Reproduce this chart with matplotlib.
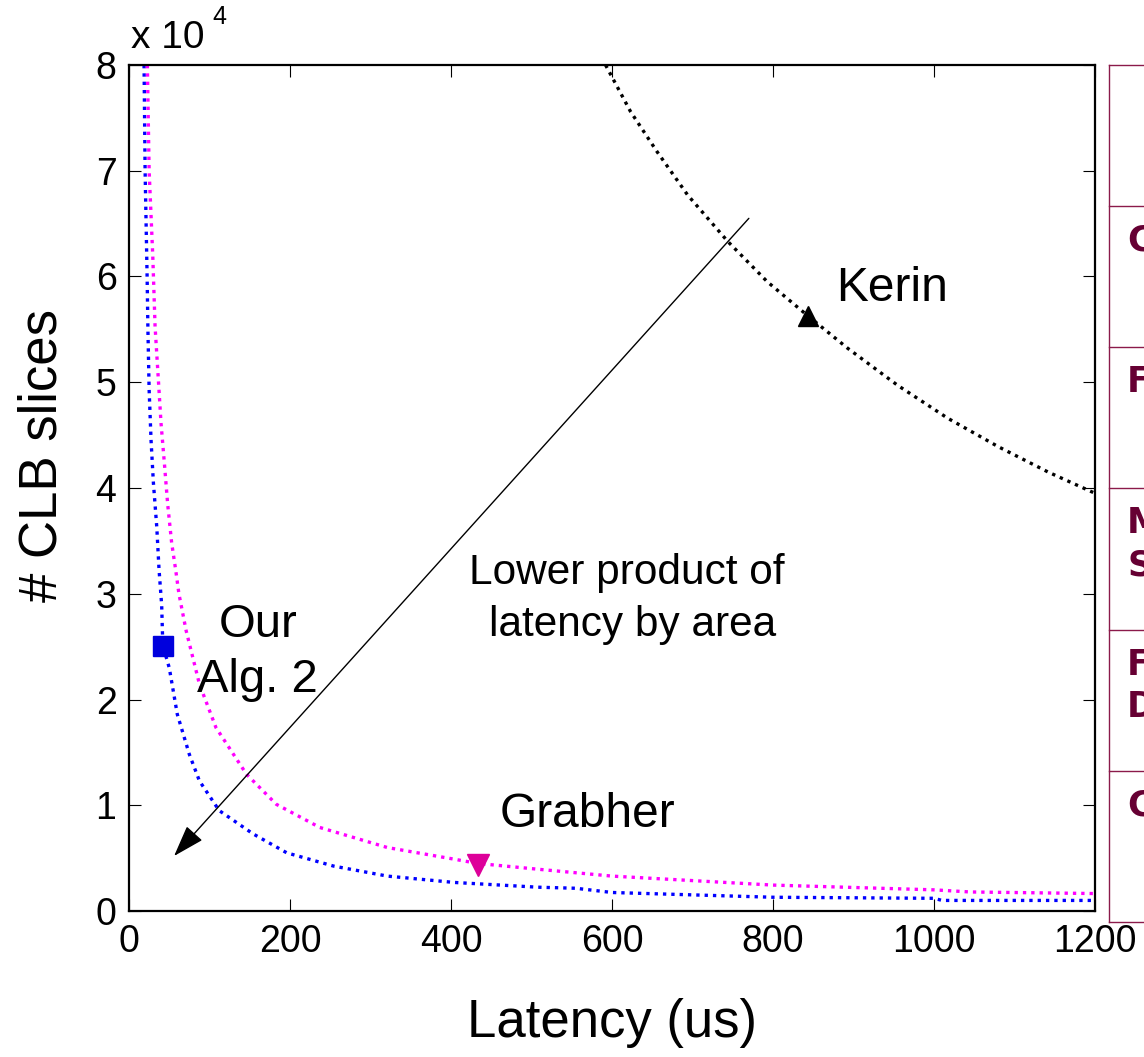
import matplotlib
matplotlib.use("Agg")
import matplotlib.pyplot as plt
from matplotlib.lines import Line2D

plt.rcParams['font.family'] = ['Liberation Sans', 'DejaVu Sans']

# latency (us) vs. area (CLB slices) trade-off curves
alg2_lat = [18.7, 20, 22.5, 23.5, 25, 27.4, 30.3, 34.5, 37.3, 40.6, 42, 50, 60, 75,
            87.5, 112, 154, 196, 254, 321, 404, 508, 555, 600, 800, 1000, 1010, 1200]
alg2_clb = [80000, 70000, 60000, 55000, 49300, 44500, 40500, 36300, 32300, 28900, 25100,
            23000, 18600, 14800, 12300, 9500, 7300, 5500, 4250, 3300, 2700, 2250, 2150,
            1750, 1300, 1200, 1000, 1000]

grab_lat = [22.8, 25, 29.5, 32.4, 36.5, 39.8, 44, 48, 53, 58, 62, 71, 87.5, 108, 146,
            183, 237, 321, 404, 433, 508, 600, 800, 1000, 1045, 1200]
grab_clb = [80000, 70000, 62000, 55250, 50200, 46100, 42300, 38500, 34800, 32250, 30000,
            26500, 21450, 17350, 12930, 10090, 7900, 6000, 4900, 4500, 3950, 3300, 2450,
            2000, 1800, 1650]

kerin_lat = [592, 623, 656, 694, 744, 793, 843, 893, 955, 1017, 1080, 1142, 1200]
kerin_clb = [80000, 75600, 71800, 67700, 63300, 59500, 56300, 53200, 49700, 46600,
             43900, 41500, 39500]

# highlighted design points
alg2_pt = (42, 25100)
grab_pt = (433, 4350)
kerin_pt = (843, 56300)

xticks = [0, 200, 400, 600, 800, 1000, 1200]
yticks = [0, 10000, 20000, 30000, 40000, 50000, 60000, 70000, 80000]
ytick_labels = ['0', '1', '2', '3', '4', '5', '6', '7', '8']

table_rows = [[''], ['C'], ['F'], ['M', 'S'], ['F', 'D'], ['C']]

W, H = 1144, 1057
fig = plt.figure(figsize=(W / 100, H / 100), dpi=100)
ax = fig.add_axes([129 / W, 1 - 911 / H, 966 / W, 846 / H])

dots = dict(linestyle=(0, (1, 1.5)), linewidth=2.4, dash_capstyle='butt')
ax.plot(alg2_lat, alg2_clb, color='#0000ff', **dots)
ax.plot(grab_lat, grab_clb, color='#ff00ff', **dots)
ax.plot(kerin_lat, kerin_clb, color='black', **dots)

ax.plot(*alg2_pt, marker='s', markersize=14.5, color='#0000dd', linestyle='none')
ax.plot(*grab_pt, marker='v', markersize=16.5, color='#dd0099', linestyle='none')
ax.plot(*kerin_pt, marker='^', markersize=15, color='black', linestyle='none')

ax.annotate('', xy=(56, 5200), xytext=(770, 65500),
            arrowprops=dict(arrowstyle='-|>,head_length=0.9,head_width=0.3',
                            lw=1.0, color='black', mutation_scale=22,
                            shrinkA=0, shrinkB=0))

ax.text(160, 27040, 'Our', fontsize=34, ha='center', va='center')
ax.text(160, 21840, 'Alg. 2', fontsize=34, ha='center', va='center')
ax.text(619, 31960, 'Lower product of', fontsize=30.5, ha='center', va='center')
ax.text(625, 27040, 'latency by area', fontsize=30.5, ha='center', va='center')
ax.text(948, 58900, 'Kerin', fontsize=34.5, ha='center', va='center')
ax.text(570, 9080, 'Grabher', fontsize=34.5, ha='center', va='center')

ax.set_xlim(0, 1200)
ax.set_ylim(0, 80000)
ax.set_xticks(xticks)
ax.set_yticks(yticks)
ax.set_yticklabels(ytick_labels)
ax.tick_params(direction='in', length=8.5, width=0.8, top=True, right=True,
               labelsize=27, pad=9, colors='black')
for s in ax.spines.values():
    s.set_linewidth(1.6)

ax.set_xlabel('Latency (us)', fontsize=38, labelpad=28)
ax.set_ylabel('# CLB slices', fontsize=38, va='center')
ax.yaxis.set_label_coords(-0.09, 0.539)

fig.text(131 / W, 1 - 38 / H, 'x 10', fontsize=28, ha='left', va='center')
fig.text(212 / W, 1 - 17 / H, '4', fontsize=18, ha='left', va='center')

# neighbouring table, cut off at the right edge
tcol = '#8b1a4a'
xl = 1108.5
row_y = [65, 205.5, 347, 488, 630, 771, 922]
fig.add_artist(Line2D([xl / W, xl / W], [1 - row_y[0] / H, 1 - row_y[-1] / H],
                      color=tcol, lw=1.0))
for y in row_y:
    fig.add_artist(Line2D([xl / W, 1.0], [1 - y / H, 1 - y / H], color=tcol, lw=1.0))
for top, words in zip(row_y[:-1], table_rows):
    for i, w in enumerate(words):
        fig.text(1127 / W, 1 - (top + 35 + 42 * i) / H, w, fontsize=25,
                 fontweight='bold', color='#660033', ha='left', va='center',
                 family=['DejaVu Sans'])

fig.savefig('out.png', dpi=100)
